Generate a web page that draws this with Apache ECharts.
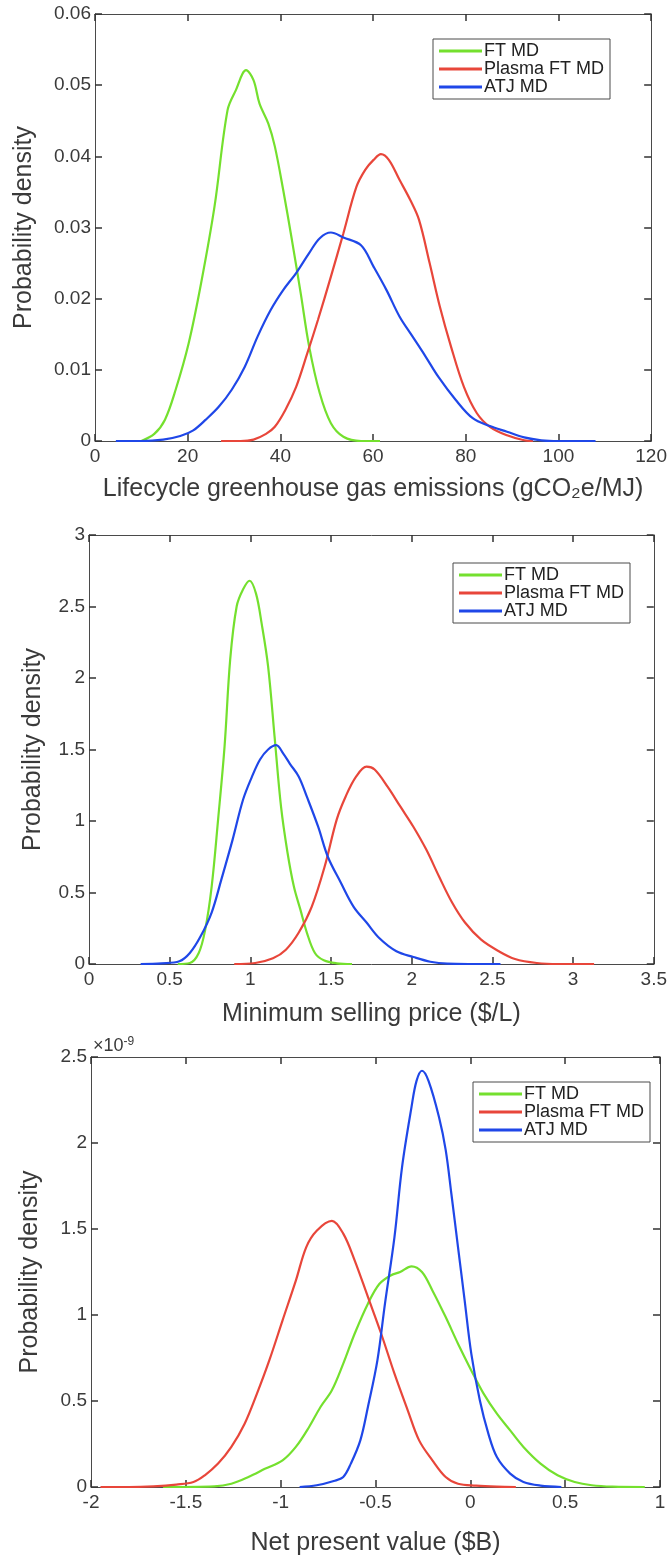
<!DOCTYPE html>
<html>
<head>
<meta charset="utf-8">
<script src="https://cdn.jsdelivr.net/npm/echarts@6/dist/echarts.min.js"></script>
<style>
  html, body { margin: 0; padding: 0; background: #fff; }
  #main { width: 670px; height: 1566px; }
</style>
</head>
<body>
<div id="main"></div>
<script>
'use strict';

var seriesNames = ['FT MD', 'Plasma FT MD', 'ATJ MD'];
var lineColors = ['#74e02e', '#e8463a', '#1f47e8'];

/** panel 1: lifecycle GHG emissions (gCO2e/MJ) */
var ghgFtX = [10, 12.8, 15.1, 17.4, 20.2, 22.9, 25.8, 28.6, 30.4, 32.6, 34.2, 35.5, 37.4, 38.8, 40.6, 42.5, 44.4, 46.2, 48.5, 50.9, 53.6, 57.4, 61.5];
var ghgFtY = [0, 0.001, 0.003, 0.0072, 0.0137, 0.0222, 0.033, 0.0465, 0.0493, 0.0521, 0.0507, 0.0474, 0.0446, 0.0414, 0.0353, 0.0282, 0.0207, 0.0133, 0.0067, 0.0025, 0.0006, 0, 0];
var ghgPlX = [27.2, 31.4, 34.2, 36.9, 38.8, 41.1, 43.4, 45.8, 48.1, 50.9, 53.6, 56.4, 58.3, 60.1, 61.7, 63.4, 65.7, 68.0, 69.9, 72.2, 74.4, 76.8, 79.6, 82.4, 85.2, 88.9, 92.6, 94.5];
var ghgPlY = [0, 0, 0.0002, 0.001, 0.002, 0.0044, 0.0076, 0.0123, 0.017, 0.0231, 0.0292, 0.0357, 0.0381, 0.0395, 0.0403, 0.0395, 0.0367, 0.0339, 0.0311, 0.025, 0.0189, 0.0133, 0.0076, 0.0039, 0.002, 0.0008, 0.0001, 0];
var ghgAtX = [4.5, 10, 14.7, 18.4, 21.2, 23.9, 26.7, 29.5, 32.3, 35.1, 37.9, 40.6, 43.4, 46.2, 48.5, 50.9, 53.6, 57.4, 60.1, 62.9, 65.7, 68.5, 71.3, 74.1, 77.8, 81.5, 85.2, 88.9, 92.6, 96.3, 100, 108];
var ghgAtY = [0, 0, 0.0002, 0.0007, 0.0015, 0.003, 0.0048, 0.0072, 0.0104, 0.0147, 0.0184, 0.0212, 0.0236, 0.0264, 0.0285, 0.0293, 0.0286, 0.0275, 0.0245, 0.0212, 0.0175, 0.0147, 0.0119, 0.009, 0.0058, 0.0032, 0.0021, 0.0013, 0.0005, 0.0001, 0, 0];

/** panel 2: minimum selling price ($/L) */
var mspFtX = [0.55, 0.625, 0.68, 0.72, 0.76, 0.80, 0.84, 0.875, 0.915, 0.955, 0.995, 1.035, 1.07, 1.11, 1.15, 1.19, 1.23, 1.27, 1.31, 1.35, 1.40, 1.455, 1.535, 1.63];
var mspFtY = [0, 0.007, 0.077, 0.24, 0.54, 1.01, 1.52, 2.13, 2.50, 2.62, 2.68, 2.59, 2.38, 2.08, 1.59, 1.10, 0.78, 0.54, 0.38, 0.22, 0.077, 0.026, 0.005, 0];
var mspPlX = [0.9, 1.03, 1.14, 1.22, 1.30, 1.38, 1.46, 1.535, 1.59, 1.655, 1.72, 1.77, 1.85, 1.93, 2.01, 2.09, 2.17, 2.25, 2.33, 2.43, 2.54, 2.64, 2.775, 2.91, 3.13];
var mspPlY = [0, 0.007, 0.04, 0.10, 0.22, 0.40, 0.68, 1.01, 1.17, 1.31, 1.38, 1.36, 1.24, 1.10, 0.96, 0.80, 0.61, 0.43, 0.29, 0.17, 0.089, 0.035, 0.007, 0, 0];
var mspAtX = [0.32, 0.45, 0.56, 0.625, 0.69, 0.76, 0.82, 0.89, 0.955, 1.01, 1.06, 1.11, 1.16, 1.205, 1.245, 1.30, 1.35, 1.42, 1.48, 1.56, 1.64, 1.72, 1.80, 1.905, 2.01, 2.115, 2.22, 2.35, 2.55];
var mspAtY = [0, 0.005, 0.019, 0.077, 0.19, 0.36, 0.59, 0.87, 1.15, 1.31, 1.43, 1.50, 1.53, 1.47, 1.40, 1.31, 1.17, 0.96, 0.75, 0.57, 0.40, 0.29, 0.18, 0.089, 0.049, 0.016, 0.002, 0, 0];

/** panel 3: net present value ($B), density in units of 1e-9 */
var npvFtX = [-1.62, -1.35, -1.26, -1.17, -1.08, -0.99, -0.92, -0.85, -0.79, -0.73, -0.67, -0.61, -0.54, -0.48, -0.42, -0.37, -0.31, -0.255, -0.20, -0.13, -0.065, 0.005, 0.07, 0.14, 0.21, 0.28, 0.37, 0.46, 0.55, 0.64, 0.75, 0.92];
var npvFtY = [0, 0.004, 0.019, 0.058, 0.107, 0.155, 0.233, 0.349, 0.465, 0.562, 0.717, 0.891, 1.066, 1.18, 1.23, 1.25, 1.283, 1.25, 1.143, 0.988, 0.833, 0.678, 0.543, 0.426, 0.329, 0.233, 0.136, 0.068, 0.029, 0.010, 0.002, 0];
var npvPlX = [-1.95, -1.80, -1.67, -1.55, -1.46, -1.40, -1.33, -1.26, -1.19, -1.125, -1.06, -0.99, -0.92, -0.865, -0.81, -0.73, -0.67, -0.61, -0.54, -0.47, -0.40, -0.33, -0.27, -0.20, -0.13, -0.065, 0.03, 0.14, 0.24];
var npvPlY = [0, 0, 0.004, 0.014, 0.029, 0.068, 0.136, 0.233, 0.368, 0.543, 0.736, 0.969, 1.20, 1.395, 1.49, 1.547, 1.473, 1.318, 1.105, 0.891, 0.659, 0.446, 0.271, 0.155, 0.058, 0.019, 0.008, 0.002, 0];
var npvAtX = [-0.90, -0.81, -0.72, -0.67, -0.63, -0.58, -0.54, -0.49, -0.45, -0.40, -0.36, -0.31, -0.284, -0.255, -0.22, -0.165, -0.13, -0.10, -0.065, -0.03, 0.005, 0.05, 0.095, 0.14, 0.21, 0.28, 0.37, 0.48];
var npvAtY = [0, 0.010, 0.035, 0.058, 0.136, 0.271, 0.465, 0.736, 1.066, 1.453, 1.86, 2.21, 2.36, 2.42, 2.36, 2.15, 1.96, 1.705, 1.395, 1.085, 0.775, 0.504, 0.31, 0.174, 0.078, 0.029, 0.008, 0];

var xTitles = ['Lifecycle greenhouse gas emissions (gCO\u2082e/MJ)', 'Minimum selling price ($/L)', 'Net present value ($B)'];
var yTitle = 'Probability density';

var textColor = '#3a3a3a';
var boxColor = '#4a4a4a';
var fontFam = '"Liberation Sans", Arial, sans-serif';

var panels = [
    { grid: { left: 95, right: 18, top: 14, height: 427 }, x: [0, 120, 20], y: [0, 0.06, 0.01],
      xGap: 36, yGap: 58, legend: { left: 433, top: 39 },
      data: [[ghgFtX, ghgFtY], [ghgPlX, ghgPlY], [ghgAtX, ghgAtY]] },
    { grid: { left: 89, right: 12, top: 535, height: 429 }, x: [0, 3.5, 0.5], y: [0, 3, 0.5],
      xGap: 38, yGap: 43, legend: { left: 453, top: 563 },
      data: [[mspFtX, mspFtY], [mspPlX, mspPlY], [mspAtX, mspAtY]] },
    { grid: { left: 91, right: 10, top: 1057, height: 430 }, x: [-2, 1, 0.5], y: [0, 2.5, 0.5],
      xGap: 44, yGap: 48, legend: { left: 473, top: 1082 },
      data: [[npvFtX, npvFtY], [npvPlX, npvPlY], [npvAtX, npvAtY]] }
];

function pairs(xs, ys) {
    return xs.map(function (x, i) { return [x, ys[i]]; });
}

var grids = [], xAxes = [], yAxes = [], legends = [], series = [];

panels.forEach(function (p, k) {
    grids.push(p.grid);
    var tick = { show: true, inside: true, length: 7, lineStyle: { color: '#333', width: 1.5 } };
    var line = { show: true, onZero: false, lineStyle: { color: boxColor, width: 1 } };
    xAxes.push({
        type: 'value', gridIndex: k, position: 'bottom', min: p.x[0], max: p.x[1], interval: p.x[2],
        axisLine: line, axisTick: tick, splitLine: { show: false },
        axisLabel: { color: textColor, fontSize: 19, fontFamily: fontFam, margin: 6, showMaxLabel: true, showMinLabel: true },
        name: xTitles[k], nameLocation: 'middle', nameGap: p.xGap,
        nameTextStyle: { color: textColor, fontSize: 25, fontFamily: fontFam }
    });
    xAxes.push({
        type: 'value', gridIndex: k, position: 'top', min: p.x[0], max: p.x[1], interval: p.x[2],
        axisLine: line, axisTick: tick, axisLabel: { show: false }, splitLine: { show: false }
    });
    yAxes.push({
        type: 'value', gridIndex: k, position: 'left', min: p.y[0], max: p.y[1], interval: p.y[2],
        axisLine: line, axisTick: tick, splitLine: { show: false },
        axisLabel: { color: textColor, fontSize: 19, fontFamily: fontFam, margin: 4 },
        name: yTitle, nameLocation: 'middle', nameGap: p.yGap, nameRotate: 90,
        nameTextStyle: { color: textColor, fontSize: 25, fontFamily: fontFam }
    });
    yAxes.push({
        type: 'value', gridIndex: k, position: 'right', min: p.y[0], max: p.y[1], interval: p.y[2],
        axisLine: line, axisTick: tick, axisLabel: { show: false }, splitLine: { show: false }
    });
    legends.push({
        left: p.legend.left, top: p.legend.top, orient: 'vertical',
        data: seriesNames, itemWidth: 43, itemHeight: 3, itemGap: 0, icon: 'rect',
        padding: [3, 6, 3, 6], borderColor: boxColor, borderWidth: 1, backgroundColor: '#fff',
        selectedMode: false,
        textStyle: { color: '#222', fontSize: 18, fontFamily: fontFam, lineHeight: 16.5, padding: [0, 0, 0, -3] }
    });
    p.data.forEach(function (d, j) {
        series.push({
            name: seriesNames[j], type: 'line', xAxisIndex: k * 2, yAxisIndex: k * 2,
            data: pairs(d[0], d[1]), showSymbol: false, symbol: 'none', smooth: 0.35,
            lineStyle: { color: lineColors[j], width: 2.2 }, itemStyle: { color: lineColors[j] },
            z: 3
        });
    });
});

var chart = echarts.init(document.getElementById('main'));
chart.setOption({
    backgroundColor: '#fff',
    animation: false,
    grid: grids,
    xAxis: xAxes,
    yAxis: yAxes,
    legend: legends,
    series: series,
    graphic: [{
        type: 'text', left: 93, top: 1036,
        style: {
            text: '{a|\u00d710}{b|-9}',
            rich: {
                a: { fontSize: 18, fontFamily: fontFam, fill: textColor },
                b: { fontSize: 12, fontFamily: fontFam, fill: textColor, verticalAlign: 'top', padding: [0, 0, 9, 0] }
            }
        }
    }]
});
</script>
</body>
</html>
